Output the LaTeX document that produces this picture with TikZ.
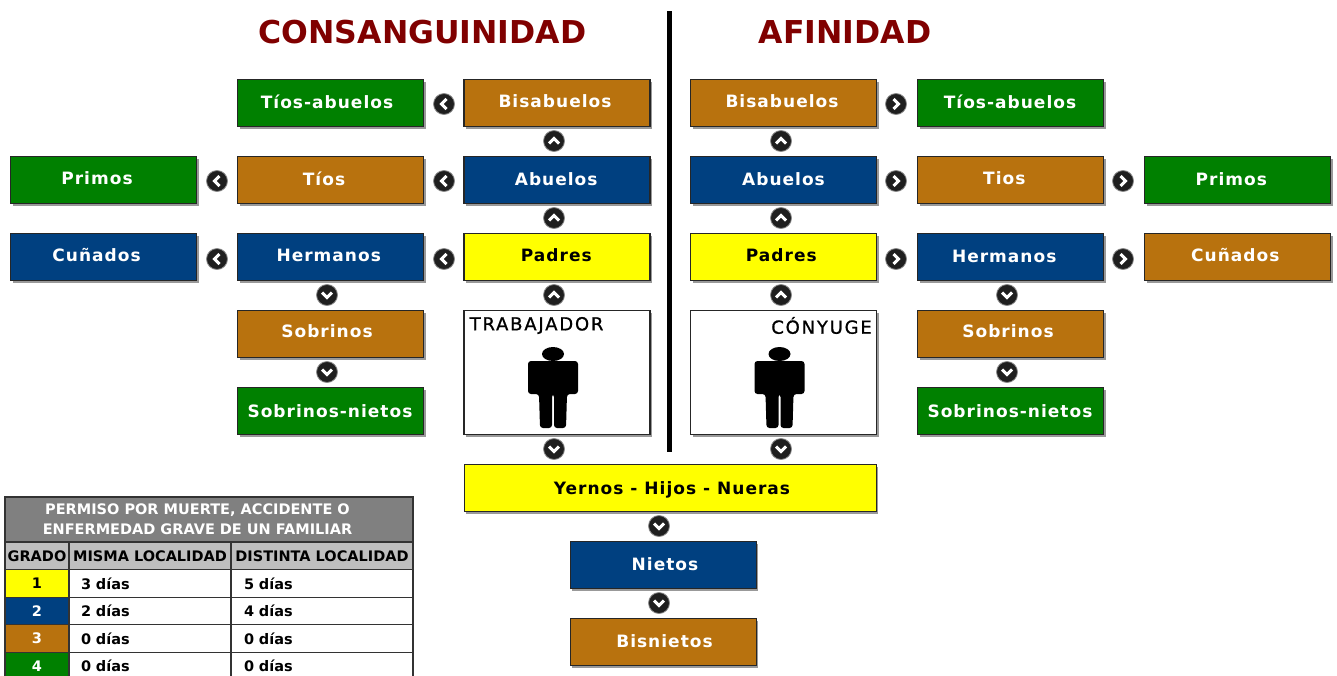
\documentclass[tikz,border=0pt]{standalone}
\usepackage{fontspec}
\setmainfont{DejaVu Sans}
\newfontfamily\fcaja[LetterSpace=6]{DejaVu Sans}
\newfontfamily\frotulo[LetterSpace=10,FakeBold=1]{DejaVu Sans}
\usepackage{tikz}
\usetikzlibrary{shadows}
\definecolor{cverde}{HTML}{008000}
\definecolor{cmarron}{HTML}{B8720E}
\definecolor{cazul}{HTML}{004080}
\definecolor{camarillo}{HTML}{FFFF00}
\definecolor{ctitulo}{HTML}{800000}
\newcommand{\corr}[3]{\raisebox{#2pt}{\hspace*{\dimexpr#1pt*2\relax}#3}}
\tikzset{
	caja/.style={draw=black!85,line width=1.2pt,minimum width=186pt,minimum height=47pt,inner sep=0pt,
		font=\fcaja\bfseries\fontsize{17}{19}\selectfont,text height=12.4pt,text depth=0pt,
		general shadow={shadow xshift=2pt,shadow yshift=-2pt,fill=black!40}},
	verde/.style={caja,fill=cverde,text=white},
	marron/.style={caja,fill=cmarron,text=white},
	azul/.style={caja,fill=cazul,text=white},
	amarilla/.style={caja,fill=camarillo,text=black},
	blanca/.style={caja,fill=white,minimum height=124pt},
	rotulo/.style={font=\frotulo\fontsize{18}{20}\selectfont},
	titulo/.style={text=ctitulo,font=\bfseries\fontsize{31.5}{34}\selectfont},
	boton/.style={circle,fill=black!88,draw=black!45,line width=.8pt,minimum size=21pt,inner sep=0pt},
	botonl/.style={boton,path picture={\draw[shift={(path picture bounding box.center)},white,line width=3pt]
		(2.5pt,5pt) -- (-2.5pt,0pt) -- (2.5pt,-5pt);}},
	botonr/.style={boton,path picture={\draw[shift={(path picture bounding box.center)},white,line width=3pt]
		(-2.5pt,5pt) -- (2.5pt,0pt) -- (-2.5pt,-5pt);}},
	botonu/.style={boton,path picture={\draw[shift={(path picture bounding box.center)},white,line width=3pt]
		(-5pt,-2.5pt) -- (0pt,2.5pt) -- (5pt,-2.5pt);}},
	botond/.style={boton,path picture={\draw[shift={(path picture bounding box.center)},white,line width=3pt]
		(-5pt,2.5pt) -- (0pt,-2.5pt) -- (5pt,2.5pt);}},
	celda/.style={draw=black!80,line width=1.1pt,inner sep=0pt,minimum height=#1,
		font=\bfseries\fontsize{14.5}{20}\selectfont},
	persona/.pic={
		\fill (0,-72) ellipse (11 and 7);
		\fill[rounded corners=3] (-25,-65) -- (25,-65) -- (25,-32) -- (14,-32) -- (13,2) -- (1,2) -- (1,-32)
			-- (-1,-32) -- (-1,2) -- (-13,2) -- (-14,-32) -- (-25,-32) -- cycle;
	}
}
\begin{document}
\begin{tikzpicture}
	[x=1pt,y=-1pt]
	\useasboundingbox (0,0) rectangle (1337,675);
	
	\node[titulo] (tconsan) at (422.5,32.5) {CONSANGUINIDAD};
	\node[titulo] (tafin) at (845,32.5) {AFINIDAD};
	\coordinate (barra1) at (669.5,11);
	\coordinate (barra2) at (669.5,452);
	\draw[line width=5pt] (barra1) -- (barra2);
	
	% consanguinidad
	\foreach \nom/\x/\y/\estilo/\dx/\dy/\txt in {
		c1/330.5/103/verde/-3.5/.5/Tíos-abuelos,c2/557/103/marron/-2/2/Bisabuelos,
		c3/103.5/180/verde/-6.5/1.7/Primos,c4/330.5/180/marron/-6.5/.3/Tíos,c5/557/180/azul/-.8/.3/Abuelos,
		c6/103.5/257/azul/-7/1.5/Cuñados,c7/330.5/257/azul/-1.8/1.5/Hermanos,c8/557/257/amarilla/-.7/2/Padres,
		c9/330.5/334/marron/-3.5/2.5/Sobrinos,c10/330.5/411/verde/-.5/0/Sobrinos-nietos}
	\node[\estilo] (\nom) at (\x,\y) {\corr{\dx}{\dy}{\txt}};
	
	% afinidad
	\foreach \nom/\x/\y/\estilo/\dx/\dy/\txt in {
		a1/783.5/103/marron/-1.5/2/Bisabuelos,a2/1010.5/103/verde/-.5/.5/Tíos-abuelos,
		a3/783.5/180/azul/0/.3/Abuelos,a4/1010.5/180/marron/-6.2/1.7/Tios,a5/1237.5/180/verde/-6.2/.3/Primos,
		a6/783.5/257/amarilla/-2.2/2/Padres,a7/1010.5/257/azul/-6.3/.3/Hermanos,a8/1237.5/257/marron/-2.2/1.5/Cuñados,
		a9/1010.5/334/marron/-2.5/2.5/Sobrinos,a10/1010.5/411/verde/-.5/0/Sobrinos-nietos}
	\node[\estilo] (\nom) at (\x,\y) {\corr{\dx}{\dy}{\txt}};
	
	% descendientes
	\node[amarilla,minimum width=412pt] (hijos) at (670.3,488) {\corr{1.7}{0}{Yernos - Hijos - Nueras}};
	\node[azul] (nietos) at (663.3,565) {\corr{1.7}{.3}{Nietos}};
	\node[marron] (bisnietos) at (663.3,642.3) {\corr{1.2}{1}{Bisnietos}};
	
	\node[blanca] (trab) at (557,372.5) {};
	\node[blanca] (cony) at (783.5,372.5) {};
	\node[rotulo,anchor=west,inner sep=0pt] (ttrab) at (469.5,325.5) {TRABAJADOR};
	\node[rotulo,anchor=east,inner sep=0pt] (tcony) at (872,325.5) {CÓNYUGE};
	\pic at (553,426) {persona};
	\pic at (779.5,426) {persona};
	
	% botones
	\foreach \nom/\x/\y in {bl1/444/104,bl2/444/181,bl3/444/259,bl4/217/181,bl5/217/259}
	\node[botonl] (\nom) at (\x,\y) {};
	\foreach \nom/\x/\y in {br1/896/104,br2/896/181,br3/896/259,br4/1123/181,br5/1123/259}
	\node[botonr] (\nom) at (\x,\y) {};
	\foreach \nom/\x/\y in {bu1/554/141,bu2/554/218,bu3/554/295,bu4/781/141,bu5/781/218,bu6/781/295}
	\node[botonu] (\nom) at (\x,\y) {};
	\foreach \nom/\x/\y in {bd1/327/295,bd2/327/372,bd3/554/449,bd4/781/449,bd5/1007/295,bd6/1007/372,bd7/659/526,bd8/659/603}
	\node[botond] (\nom) at (\x,\y) {};
	
	% tabla
	\node[celda=45pt,minimum width=408pt,fill=black!50,text=white,align=center] (thead) at (209,519.5)
		{\corr{-11.5}{0}{PERMISO POR MUERTE, ACCIDENTE O}\\\corr{-11.5}{0}{ENFERMEDAD GRAVE DE UN FAMILIAR}};
	\foreach \nom/\x/\ancho/\txt in {tg/37/64/GRADO,tm/150/162/MISMA LOCALIDAD,td/322/182/DISTINTA LOCALIDAD}
	\node[celda=28pt,minimum width=\ancho pt,fill=black!25] (\nom) at (\x,556) {\txt};
	\foreach \n/\y/\col/\tcol/\uno/\dos in {
		1/583.5/camarillo/black/3/5,2/611/cazul/white/2/4,3/638.5/cmarron/white/0/0,4/666/cverde/white/0/0}{
		\node[celda=27.5pt,minimum width=64pt,fill=\col,text=\tcol] (g\n) at (37,\y) {\corr{0}{-.5}{\n}};
		\node[celda=27.5pt,minimum width=162pt,fill=white,text width=138pt,align=left] (m\n) at (150,\y) {\corr{0}{-1}{\uno{} días}};
		\node[celda=27.5pt,minimum width=182pt,fill=white,text width=156pt,align=left] (d\n) at (322,\y) {\corr{0}{-1}{\dos{} días}};
	}
\end{tikzpicture}
\end{document}
